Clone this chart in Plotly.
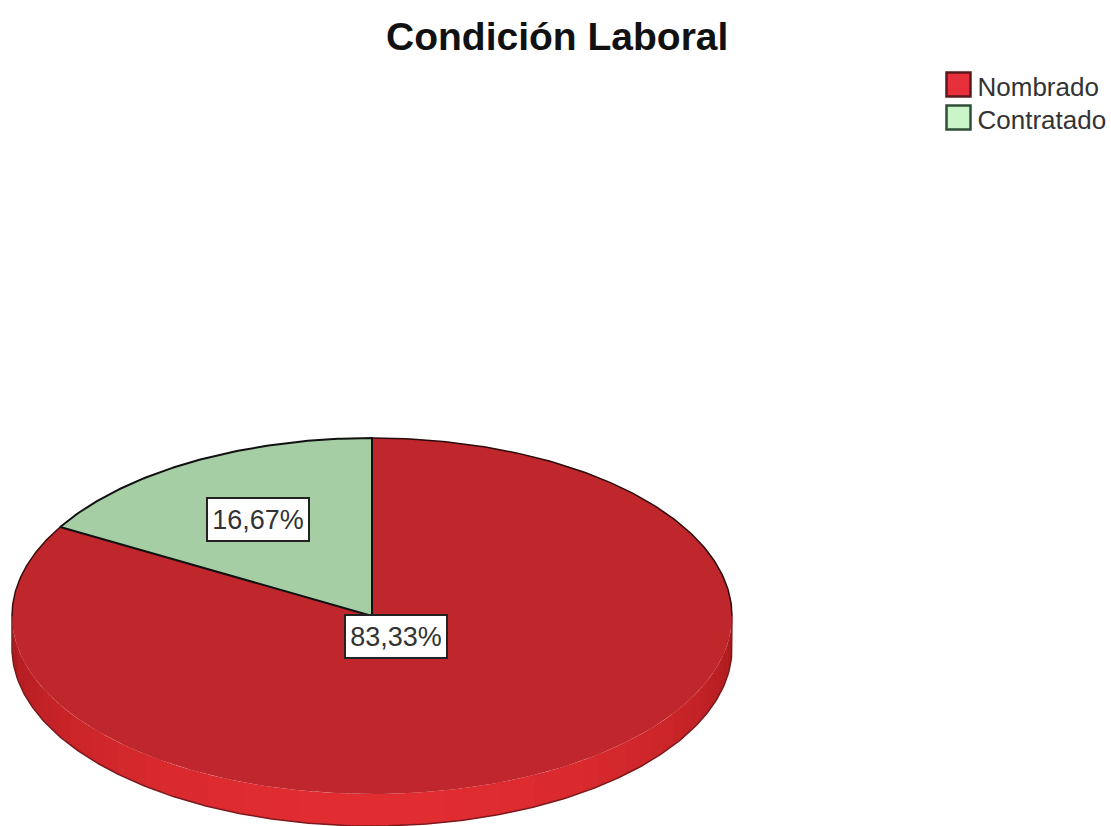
import numpy as np
import plotly.graph_objects as go

title = "Condición Laboral"
categories = ["Nombrado", "Contratado"]
shares = [83.33, 16.67]
share_labels = ["83,33%", "16,67%"]
top_colors = ["#C0272D", "#A5CEA5"]
legend_colors = ["#E8303C", "#C9F5C9"]

W, H = 1111, 826
CX, CY, RX, RY, DEPTH = 372, 616, 360, 178, 32


def rim(a, dy=0):
    """a: clockwise angle in degrees from 12 o'clock."""
    r = np.radians(a)
    return CX + RX * np.sin(r), CY + dy - RY * np.cos(r)


fig = go.Figure()

# side wall, shaded from dark at the ends to bright at the front
edges = np.linspace(90, 270, 61)
for a0, a1 in zip(edges[:-1], edges[1:]):
    mid = abs((a0 + a1) / 2 - 180) / 90
    t = min(1, mid ** 2.0)
    c = (int(226 - 60 * t), int(45 - 20 * t), int(50 - 22 * t))
    aa = np.linspace(a0, a1 + 0.5, 6)
    x1, y1 = rim(aa)
    x2, y2 = rim(aa[::-1], DEPTH)
    fig.add_trace(go.Scatter(
        x=np.r_[x1, x2], y=np.r_[y1, y2], mode="lines", fill="toself",
        fillcolor=f"rgb{c}", line=dict(width=0), hoverinfo="skip", showlegend=False,
    ))

# top face: the sectors are laid out from the shares, first one clockwise from 12 o'clock
start = 0.0
total = sum(shares)
spans = []
for share, col, cat in zip(shares, top_colors, categories):
    end = start + 360 * share / total
    aa = np.linspace(start, end, 240)
    x, y = rim(aa)
    fig.add_trace(go.Scatter(
        x=np.r_[CX, x, CX], y=np.r_[CY, y, CY], mode="lines", fill="toself",
        fillcolor=col, line=dict(width=0), name=cat, showlegend=False,
    ))
    spans.append((start, end))
    start = end

# silhouette and sector edges
aa = np.linspace(spans[1][0], 360, 100)
x, y = rim(aa)
fig.add_trace(go.Scatter(x=np.r_[CX, x, CX], y=np.r_[CY, y, CY], mode="lines",
                         line=dict(color="#111111", width=2), hoverinfo="skip", showlegend=False))
aa = np.linspace(0, 90, 120)
x, y = rim(aa)
fig.add_trace(go.Scatter(x=x, y=y, mode="lines", line=dict(color="#2a0a0a", width=1.5),
                         hoverinfo="skip", showlegend=False))
aa = np.linspace(270, spans[1][0], 60)
x, y = rim(aa)
fig.add_trace(go.Scatter(x=x, y=y, mode="lines", line=dict(color="#3a0c0c", width=1.5),
                         hoverinfo="skip", showlegend=False))
aa = np.linspace(90, 270, 240)
x, y = rim(aa, DEPTH)
xe, ye = rim(np.array([90.0])), rim(np.array([270.0]))
fig.add_trace(go.Scatter(
    x=np.r_[xe[0], x, ye[0]], y=np.r_[xe[1], y, ye[1]], mode="lines",
    line=dict(color="#7a1a1e", width=1.5), hoverinfo="skip", showlegend=False,
))

# legend
fig.add_trace(go.Scatter(
    x=[958.5, 958.5], y=[84.5, 117.5], mode="markers",
    marker=dict(symbol="square", size=24, color=legend_colors,
                line=dict(color=["#5a1a1e", "#2f4f38"], width=2.5)),
    cliponaxis=False, showlegend=False, hoverinfo="skip",
))
fig.add_trace(go.Scatter(
    x=[977.5, 977.5], y=[89, 122], mode="text", text=categories,
    textposition="middle right", textfont=dict(family="Liberation Sans", size=26, color="#333333"),
    cliponaxis=False, showlegend=False, hoverinfo="skip",
))

# value labels
label_pos = [(258, 519), (396, 636.5)]
for (lx, ly), txt in zip(label_pos, share_labels[::-1]):
    fig.add_annotation(
        x=lx, y=ly, xref="x", yref="y", text=txt, showarrow=False, width=100, height=41,
        bgcolor="white", bordercolor="#222222", borderwidth=2, borderpad=0,
        font=dict(family="Liberation Sans", size=27, color="#333333"),
    )

fig.add_annotation(
    x=557, y=36, xref="x", yref="y", text=f"<b>{title}</b>", showarrow=False,
    font=dict(family="Liberation Sans", size=39, color="#111111"),
)

fig.update_xaxes(range=[0, W], visible=False, fixedrange=True)
fig.update_yaxes(range=[H, 0], visible=False, fixedrange=True)
fig.update_layout(width=W, height=H, margin=dict(l=0, r=0, t=0, b=0),
                  plot_bgcolor="white", paper_bgcolor="white", showlegend=False)
fig.write_html("out.html", config={"displayModeBar": False},
               post_script="document.body.style.margin='0';document.documentElement.style.overflow='hidden';")
